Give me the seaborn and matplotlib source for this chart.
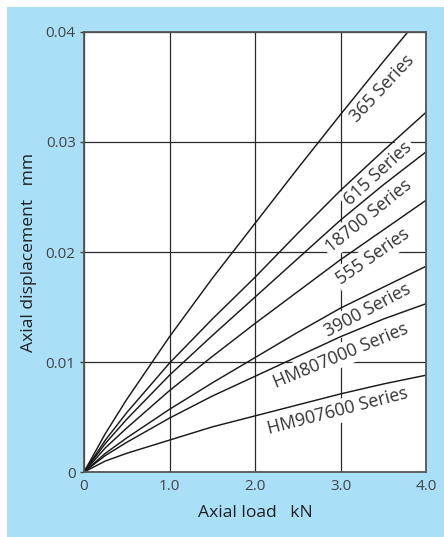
import pandas as pd
import seaborn as sns
import matplotlib.pyplot as plt
from matplotlib.patches import Rectangle

# Axial load (kN) and axial displacement (mm)
load = [0, 0.25, 0.5, 1.0, 1.5, 2.0, 2.5, 3.0, 3.5, 4.0]
s365 = [0, 0.0035, 0.0066, 0.0123, 0.0176, 0.0226, 0.0276, 0.0325, 0.0373, 0.0420]
s615 = [0, 0.0029, 0.0054, 0.0099, 0.0139, 0.0177, 0.0217, 0.0256, 0.0292, 0.0327]
s18700 = [0, 0.0026, 0.0048, 0.0088, 0.0124, 0.0159, 0.0194, 0.0229, 0.0261, 0.0291]
s555 = [0, 0.0022, 0.0040, 0.0074, 0.0105, 0.0135, 0.0164, 0.0193, 0.0220, 0.0247]
s3900 = [0, 0.0017, 0.0031, 0.0057, 0.0081, 0.0104, 0.0127, 0.0149, 0.0168, 0.0187]
s807 = [0, 0.0015, 0.0027, 0.0049, 0.0069, 0.0087, 0.0105, 0.0123, 0.0139, 0.0153]
s907 = [0, 0.0010, 0.0017, 0.0029, 0.0041, 0.0051, 0.0061, 0.0071, 0.0080, 0.0088]

series_names = ["365 Series", "615 Series", "18700 Series", "555 Series",
                "3900 Series", "HM807000 Series", "HM907600 Series"]
series_values = [s365, s615, s18700, s555, s3900, s807, s907]

# label placement (x, y, angle)
label_pos = [(3.49, 0.0349, 47), (3.44, 0.0271, 42.5), (3.33, 0.0233, 39),
             (3.38, 0.0196, 35), (3.32, 0.0147, 28), (3.00, 0.0106, 22.5),
             (2.97, 0.0055, 14.5)]

df = pd.DataFrame({
    "load": load * len(series_names),
    "disp": [v for vals in series_values for v in vals],
    "series": [n for n in series_names for _ in load],
})

sns.set_style("white")
plt.rcParams["font.family"] = ["Open Sans", "DejaVu Sans"]

fig = plt.figure(figsize=(4.44, 5.37), dpi=100)
fig.patch.set_facecolor("white")
fig.add_artist(Rectangle((7 / 444, 0), 1, 530 / 537, transform=fig.transFigure,
                         facecolor="#aadff8", edgecolor="none", zorder=-5))

ax = fig.add_axes([84 / 444, 65 / 537, 342 / 444, 440 / 537])
ax.set_zorder(1)
ax.set_facecolor("white")

sns.lineplot(data=df, x="load", y="disp", hue="series",
             palette=["#1a1a1a"] * len(series_names), linewidth=1.05,
             legend=False, ax=ax, zorder=3)

for name, (lx, ly, ang) in zip(series_names, label_pos):
    ax.text(lx, ly, name, rotation=ang, rotation_mode="anchor",
            ha="center", va="center", fontsize=12.8, color="#333333", zorder=2,
            bbox=dict(facecolor="white", edgecolor="none", pad=2))

ax.set_xlim(0, 4)
ax.set_ylim(0, 0.04)
ax.set_xticks([0, 1, 2, 3, 4])
ax.set_xticklabels(["0", "1.0", "2.0", "3.0", "4.0"])
ax.set_xticks([0.5, 1.5, 2.5, 3.5], minor=True)
ax.set_yticks([0, 0.01, 0.02, 0.03, 0.04])
ax.set_yticklabels(["0", "0.01", "0.02", "0.03", "0.04"])

ax.grid(True, which="major", color="#2a2a2a", linewidth=0.9)
ax.set_axisbelow(True)
for gl in ax.get_xgridlines() + ax.get_ygridlines():
    gl.set_zorder(1)

ax.tick_params(axis="x", which="major", length=0, pad=5, labelsize=11, labelcolor="#444444")
ax.tick_params(axis="x", which="minor", direction="in", length=7, width=1.2, color="#666666")
ax.tick_params(axis="y", which="major", direction="out", length=3, width=1, color="#444444",
               pad=3, labelsize=11, labelcolor="#444444", left=True)

for side in ["left", "right", "top", "bottom"]:
    ax.spines[side].set_color("#555555")
    ax.spines[side].set_linewidth(1.3)
    ax.spines[side].set_zorder(4)

ax.set_xlabel("Axial load   kN", fontsize=12.6, color="#222222", labelpad=8)
ax.set_ylabel("Axial displacement   mm", fontsize=12.6, color="#222222", labelpad=6)

fig.savefig("out.png", dpi=100)
